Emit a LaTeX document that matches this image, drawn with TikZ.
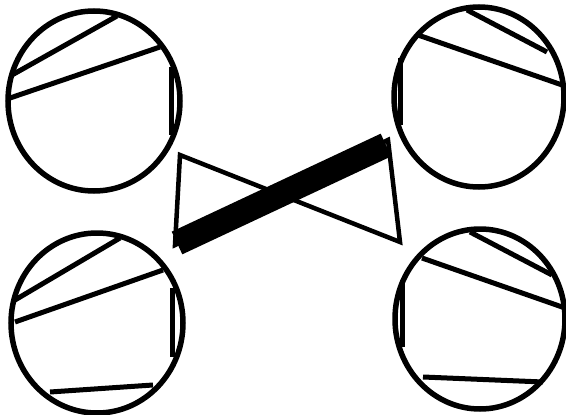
\documentclass[tikz,border=0pt]{standalone}
\usepackage{tikz}

\begin{document}
\begin{tikzpicture}[
    x=1pt, y=-1pt,
    ring/.style={draw, line width=5.5pt},
    chord/.style={draw, line width=5pt},
    bow/.style={draw, line width=4.5pt, line join=miter},
    bar/.style={draw, line width=25pt}
  ]
    \useasboundingbox (0,0) rectangle (566,415);
    % top left
    \draw[ring] (94,101) ellipse [x radius=86pt, y radius=90pt];
    \draw[chord] (12,75) -- (117,16);
    \draw[chord] (10,98) -- (160,47);
    \draw[chord] (171,67) -- (171,135);
    % top right
    \draw[ring] (479,97) ellipse [x radius=85pt, y radius=90pt];
    \draw[chord] (467,10) -- (547,52);
    \draw[chord] (418,35) -- (565,86);
    \draw[chord] (400,58) -- (400,125);
    % bottom left
    \draw[ring] (97,323) ellipse [x radius=86pt, y radius=90pt];
    \draw[chord] (15,300) -- (120,238);
    \draw[chord] (15,322) -- (163,270);
    \draw[chord] (172,288) -- (172,357);
    \draw[chord] (50,392) -- (153,385);
    % bottom right
    \draw[ring] (480,319) ellipse [x radius=85pt, y radius=90pt];
    \draw[chord] (470,232) -- (552,275);
    \draw[chord] (422,258) -- (565,308);
    \draw[chord] (402,280) -- (402,347);
    \draw[chord] (423,377) -- (543,382);
    % middle
    \draw[bow] (180,155) -- (400,242) -- (388,140) -- (175,245) -- cycle;
    \draw[bar] (177,243) -- (386,145);
  \end{tikzpicture}
\end{document}
